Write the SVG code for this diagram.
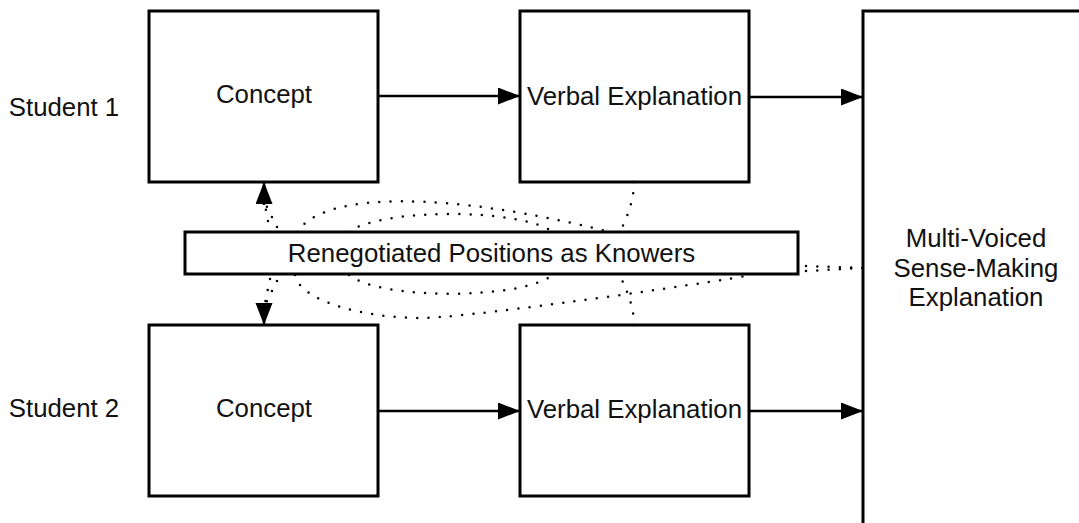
<svg xmlns="http://www.w3.org/2000/svg" width="1079" height="523" viewBox="0 0 1079 523">
<style>
.box{fill:#fff;stroke:#000;stroke-width:3}
.lbl{font-family:"Liberation Sans",Arial,sans-serif;font-size:25.8px;fill:#111;text-anchor:middle}
.solid{fill:none;stroke:#000;stroke-width:2.5}
.dot{fill:none;stroke:#000;stroke-width:2.5;stroke-linecap:round;stroke-dasharray:0 11.3}
</style>
<defs>
<marker id="ah" markerUnits="userSpaceOnUse" markerWidth="24" markerHeight="18" refX="22" refY="8.5" orient="auto">
<path d="M0,0 L22,8.5 L0,17 z" fill="#000"/>
</marker>
</defs>
<rect width="1079" height="523" fill="#fff"/>
<g id="student1-label"><text class="lbl" x="64" y="116">Student 1</text></g>
<g id="student2-label"><text class="lbl" x="64" y="417">Student 2</text></g>
<g id="concept1"><rect class="box" x="149" y="11" width="229" height="171"/><text class="lbl" x="264" y="103">Concept</text></g>
<g id="verbal1"><rect class="box" x="520" y="11" width="229" height="171"/><text class="lbl" x="634.5" y="105">Verbal Explanation</text></g>
<g id="concept2"><rect class="box" x="149" y="325" width="229" height="171"/><text class="lbl" x="264" y="417">Concept</text></g>
<g id="verbal2"><rect class="box" x="520" y="325" width="229" height="171"/><text class="lbl" x="634.5" y="418">Verbal Explanation</text></g>
<g id="multi"><rect class="box" x="863" y="11" width="229" height="514"/><text class="lbl" x="976" y="247">Multi-Voiced</text><text class="lbl" x="976" y="277">Sense-Making</text><text class="lbl" x="976" y="306">Explanation</text></g>
<g id="connectors">
<path class="solid" d="M378,96 L520,96" marker-end="url(#ah)"/>
<path class="solid" d="M749,97 L863,97" marker-end="url(#ah)"/>
<path class="solid" d="M378,411 L520,411" marker-end="url(#ah)"/>
<path class="solid" d="M749,411 L863,411" marker-end="url(#ah)"/>
<path class="dot" d="M270,232 L265,205"/>
<path class="dot" d="M277,227 L266,205"/>
<path class="solid" d="M264,205 L264,182" marker-end="url(#ah)"/>
<path class="dot" d="M270,279 L265,303"/>
<path class="dot" d="M277,281 L266,303"/>
<path class="solid" d="M264,303 L264,325" marker-end="url(#ah)"/>
<path class="dot" d="M297,232 C325,190 450,192 610,232"/>
<path class="dot" d="M349,232 C380,208 520,208 553,232"/>
<path class="dot" d="M634,182 C634,200 628,215 620,232"/>
<path class="dot" d="M295,275 C300,300 360,318 422,318 C460,318 650,292 752,275"/>
<path class="dot" d="M349,275 C380,300 520,300 553,275"/>
<path class="dot" d="M634,325 C634,305 626,290 620,275"/>
<path class="dot" d="M806,266 L863,268"/>
<path class="dot" d="M806,271 L863,268"/>
</g>
<g id="renegotiated"><rect class="box" x="185" y="232" width="613" height="42"/><text class="lbl" x="491.5" y="262">Renegotiated Positions as Knowers</text></g>
</svg>
